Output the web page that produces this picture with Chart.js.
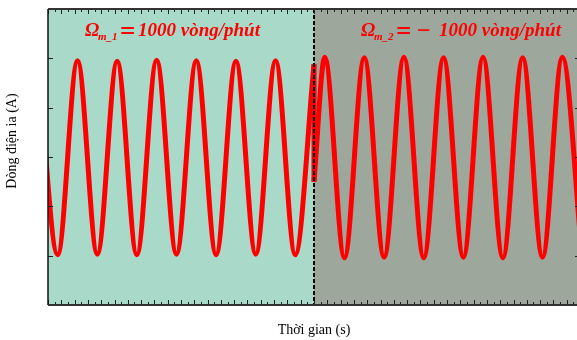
<!DOCTYPE html>
<html>
<head>
<meta charset="utf-8">
<script src="https://cdn.jsdelivr.net/npm/chart.js@4"></script>
<style>
  html, body { margin: 0; padding: 0; overflow: hidden; background: #fff; }
  #wrap { width: 592px; height: 340px; }
</style>
</head>
<body>
<div id="wrap"><canvas id="chart"></canvas></div>
<script>
// phase current, speed reversed at t = 0.2 s
var switchTime = 0.2;

// peaks / troughs of ia while running at +1000 rpm
var leftTime    = [-0.0076, 0.0073, 0.0222, 0.0371, 0.0520, 0.0668, 0.0817, 0.0966, 0.1115, 0.1264, 0.1413, 0.1562, 0.1711, 0.1859, 0.2000];
var leftCurrent = [1.94, -1.98, 1.95, -1.97, 1.94, -1.98, 1.96, -1.97, 1.95, -1.98, 1.94, -1.97, 1.95, -1.98, 1.88];

// peaks / troughs after reversing to -1000 rpm
var rightTime    = [0.2000, 0.2081, 0.2229, 0.2378, 0.2527, 0.2676, 0.2825, 0.2974, 0.3123, 0.3271, 0.3420, 0.3569, 0.3718, 0.3867, 0.4016];
var rightCurrent = [-0.5, 2.02, -2.04, 2.01, -2.03, 2.02, -2.04, 2.01, -2.03, 2.02, -2.04, 2.01, -2.03, 2.02, -2.04];

var timeRange = [0, 0.4];
var currentRange = [-3, 3];
var timeStep = 0.005;
var currentStep = 1;

var xTitle = 'Thời gian (s)';
var yTitle = 'Dòng điện ia (A)';
var speedLabels = [
  { x: 85,  sub: 'm_1', minus: false },
  { x: 361, sub: 'm_2', minus: true }
];

function toPoints(t, v) {
  return t.map(function (x, i) { return { x: x, y: v[i] }; });
}

var serif = '"Liberation Serif", "Times New Roman", serif';

var decor = {
  id: 'decor',
  beforeDatasetsDraw: function (chart) {
    var ctx = chart.ctx, a = chart.chartArea;
    var xs = chart.scales.x.getPixelForValue(switchTime);
    ctx.save();
    ctx.fillStyle = '#a9d9c9';
    ctx.fillRect(a.left, a.top, xs - a.left, a.bottom - a.top);
    ctx.fillStyle = '#9da79c';
    ctx.fillRect(xs, a.top, a.right - xs, a.bottom - a.top);
    ctx.restore();
  },
  afterDatasetsDraw: function (chart) {
    var ctx = chart.ctx, a = chart.chartArea;
    var x = chart.scales.x, y = chart.scales.y;
    var xs = x.getPixelForValue(switchTime);
    ctx.save();

    // dashed marker at the reversal instant
    ctx.strokeStyle = '#000';
    ctx.lineWidth = 2;
    ctx.setLineDash([4, 2]);
    ctx.beginPath();
    ctx.moveTo(xs, a.top);
    ctx.lineTo(xs, a.bottom);
    ctx.stroke();
    ctx.setLineDash([]);

    // inward ticks on all four sides
    ctx.strokeStyle = '#222';
    ctx.lineWidth = 1;
    ctx.beginPath();
    x.ticks.forEach(function (t) {
      var px = Math.round(x.getPixelForValue(t.value)) + 0.5;
      var len = Math.round(t.value / timeStep) % 2 === 0 ? 5 : 3;
      ctx.moveTo(px, a.bottom); ctx.lineTo(px, a.bottom - len);
      ctx.moveTo(px, a.top); ctx.lineTo(px, a.top + len);
    });
    y.ticks.forEach(function (t) {
      if (t.value <= currentRange[0] || t.value >= currentRange[1]) return;
      var py = Math.round(y.getPixelForValue(t.value)) + 0.5;
      ctx.moveTo(a.left, py); ctx.lineTo(a.left + 5, py);
      ctx.moveTo(a.right, py); ctx.lineTo(a.right - 5, py);
    });
    ctx.stroke();

    // frame
    ctx.strokeStyle = '#111';
    ctx.lineWidth = 1.5;
    ctx.beginPath();
    ctx.moveTo(a.left, a.top); ctx.lineTo(a.left, a.bottom);
    ctx.stroke();
    ctx.strokeStyle = '#333';
    ctx.lineWidth = 2;
    ctx.beginPath();
    ctx.moveTo(a.left, a.top); ctx.lineTo(a.right, a.top);
    ctx.moveTo(a.left, a.bottom); ctx.lineTo(a.right, a.bottom);
    ctx.moveTo(a.right, a.top); ctx.lineTo(a.right, a.bottom);
    ctx.stroke();

    // speed labels
    ctx.fillStyle = '#ff0000';
    ctx.textBaseline = 'alphabetic';
    ctx.textAlign = 'left';
    speedLabels.forEach(function (s) {
      var base = 36;
      ctx.font = 'italic bold 19px ' + serif;
      ctx.fillText('Ω', s.x, base);
      ctx.font = 'italic bold 11px ' + serif;
      ctx.fillText(s.sub, s.x + 13, base + 4);
      ctx.font = 'bold 27px ' + serif;
      ctx.fillText('=', s.x + 35, base + 4);
      var nx = s.x + 53;
      if (s.minus) {
        ctx.font = 'bold 24px ' + serif;
        ctx.fillText('−', s.x + 56, base + 2);
        nx = s.x + 78;
      }
      ctx.font = 'italic bold 19px ' + serif;
      ctx.fillText('1000 vòng/phút', nx, base);
    });

    // y axis title
    ctx.fillStyle = '#000';
    ctx.font = '14px ' + serif;
    ctx.textAlign = 'center';
    ctx.translate(16, 141);
    ctx.rotate(-Math.PI / 2);
    ctx.fillText(yTitle, 0, 0);
    ctx.restore();
  }
};

var lineStyle = {
  borderColor: '#ff0000',
  borderWidth: 5,
  pointRadius: 0,
  fill: false
};

new Chart(document.getElementById('chart'), {
  type: 'line',
  data: {
    datasets: [
      Object.assign({ label: 'Ωm_1', data: toPoints(leftTime, leftCurrent), cubicInterpolationMode: 'monotone' }, lineStyle),
      Object.assign({ label: 'reversal', data: [
        { x: switchTime, y: leftCurrent[leftCurrent.length - 1] },
        { x: switchTime, y: rightCurrent[0] }
      ], tension: 0 }, lineStyle),
      Object.assign({ label: 'Ωm_2', data: toPoints(rightTime, rightCurrent), cubicInterpolationMode: 'monotone' }, lineStyle)
    ]
  },
  options: {
    responsive: true,
    maintainAspectRatio: false,
    animation: false,
    layout: { padding: { top: 9, right: 12, bottom: 0, left: 0 } },
    plugins: { legend: { display: false }, tooltip: { enabled: false } },
    scales: {
      x: {
        type: 'linear',
        min: timeRange[0],
        max: timeRange[1],
        ticks: { display: false, stepSize: timeStep },
        grid: { display: false },
        border: { display: false },
        title: { display: true, text: xTitle, color: '#000', font: { family: serif, size: 14 }, padding: { top: 0, bottom: 1 } },
        afterFit: function (s) { s.height = 35; }
      },
      y: {
        min: currentRange[0],
        max: currentRange[1],
        ticks: { display: false, stepSize: currentStep },
        grid: { display: false },
        border: { display: false },
        afterFit: function (s) { s.width = 48; }
      }
    }
  },
  plugins: [decor]
});
</script>
</body>
</html>
